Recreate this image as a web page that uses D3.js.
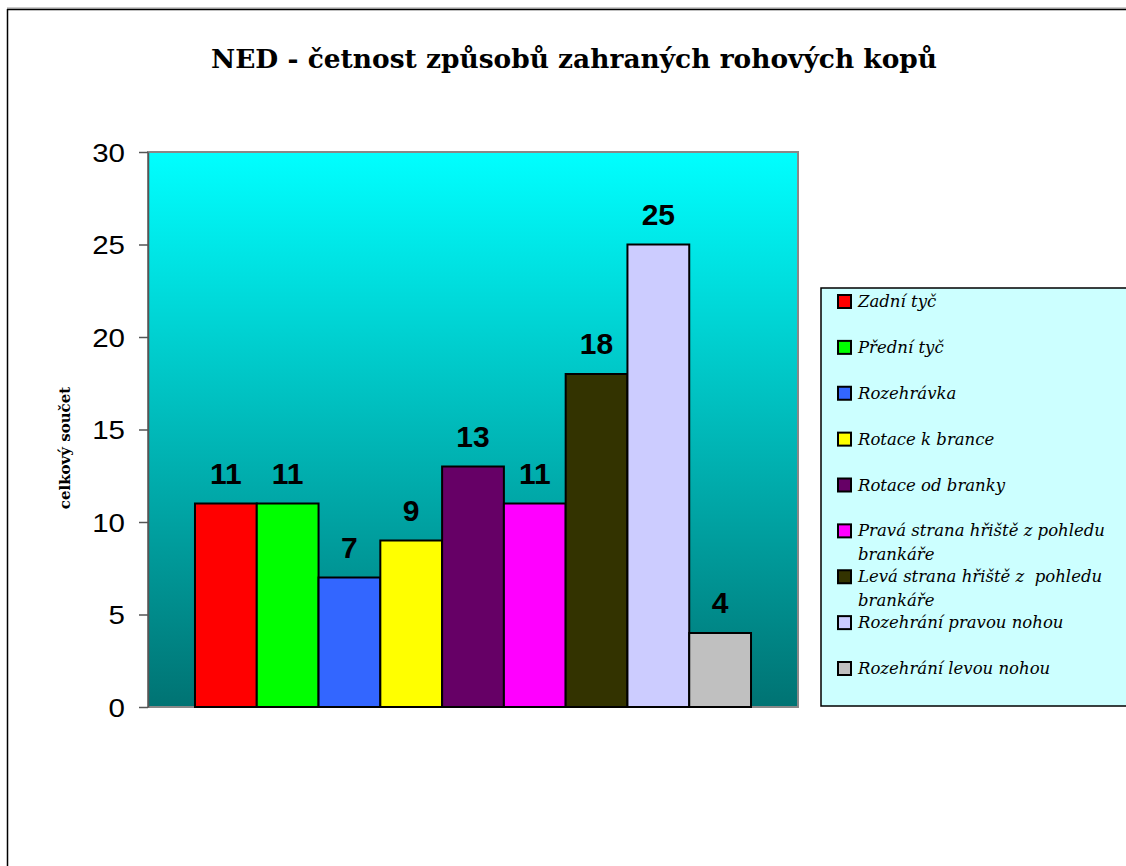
<!DOCTYPE html>
<html lang="cs">
<head>
    <meta charset="UTF-8">
    <script src="https://d3js.org/d3.v7.min.js"></script>
    <title>NED - četnost</title>
    <style>
        body { margin: 0; background: #fff; }
        .tick text { font-family: Arial, "Liberation Sans", sans-serif; }
    </style>
</head>
<body>
    <svg id="chart" width="1126" height="866"></svg>
<script>
// data
var categories = ["NED"];
var series = ["Zadní tyč", "Přední tyč", "Rozehrávka", "Rotace k brance", "Rotace od branky",
              "Pravá strana hřiště z pohledu brankáře", "Levá strana hřiště z  pohledu brankáře",
              "Rozehrání pravou nohou", "Rozehrání levou nohou"];
var values = [11, 11, 7, 9, 13, 11, 18, 25, 4];
var yTicks = [0, 5, 10, 15, 20, 25, 30];
// legend lines (wrapped like the original)
var legendLines = [["Zadní tyč"], ["Přední tyč"], ["Rozehrávka"], ["Rotace k brance"], ["Rotace od branky"],
                   ["Pravá strana hřiště z pohledu", "brankáře"], ["Levá strana hřiště z  pohledu", "brankáře"],
                   ["Rozehrání pravou nohou"], ["Rozehrání levou nohou"]];

var colors = ["#FF0000", "#00FF00", "#3366FF", "#FFFF00", "#660066", "#FF00FF", "#333300", "#CCCCFF", "#C0C0C0"];
var color = d3.scaleOrdinal().domain(series).range(colors);

var svg = d3.select("#chart");

// outer frame
svg.append("line").attr("x1", 7).attr("x2", 1126).attr("y1", 8).attr("y2", 8)
    .attr("stroke", "#999").attr("stroke-width", 1);
svg.append("line").attr("x1", 7).attr("x2", 1126).attr("y1", 9.5).attr("y2", 9.5)
    .attr("stroke", "#000").attr("stroke-width", 1.5);
svg.append("line").attr("x1", 7.5).attr("x2", 7.5).attr("y1", 9).attr("y2", 866)
    .attr("stroke", "#000").attr("stroke-width", 1.5);

// title
svg.append("text")
    .attr("x", 574).attr("y", 68)
    .attr("text-anchor", "middle")
    .style("font-family", "'DejaVu Serif', serif")
    .style("font-weight", "bold")
    .style("font-size", "26px")
    .attr("textLength", 726)
    .attr("lengthAdjust", "spacingAndGlyphs")
    .text("NED - četnost způsobů zahraných rohových kopů");

// plot area
var plotLeft = 148, plotRight = 798, plotTop = 152, plotBottom = 707;

var defs = svg.append("defs");
var grad = defs.append("linearGradient").attr("id", "bg")
    .attr("x1", 0).attr("y1", 0).attr("x2", 0).attr("y2", 1);
grad.append("stop").attr("offset", "0%").attr("stop-color", "#00FFFF");
grad.append("stop").attr("offset", "100%").attr("stop-color", "#007373");

svg.append("rect")
    .attr("x", plotLeft).attr("y", plotTop)
    .attr("width", plotRight - plotLeft).attr("height", plotBottom - plotTop)
    .attr("fill", "url(#bg)")
    .attr("stroke", "#888").attr("stroke-width", 2);

var y = d3.scaleLinear().domain([0, 30]).range([plotBottom, plotTop]);
var x0 = d3.scaleBand().domain(categories).range([plotLeft, plotRight]).paddingInner(0).paddingOuter(0.0845);
var x1 = d3.scaleBand().domain(series).range([0, x0.bandwidth()]);

// y axis
var yAxis = d3.axisLeft(y).tickValues(yTicks).tickSizeInner(9).tickSizeOuter(0).tickPadding(14);
var gy = svg.append("g").attr("transform", "translate(" + plotLeft + ",0)").call(yAxis);
gy.select(".domain").attr("stroke", "#555").attr("stroke-width", 1.5);
gy.selectAll(".tick line").attr("stroke", "#555").attr("stroke-width", 1.5);
// the original digits are a bit wider than Arial
gy.selectAll(".tick text")
    .style("font-size", "25px").attr("fill", "#000").attr("dy", "0.36em")
    .attr("x", -23 / 1.18)
    .attr("transform", "scale(1.18,1)");

// y title
svg.append("text")
    .attr("transform", "translate(70,448) rotate(-90)")
    .attr("text-anchor", "middle")
    .style("font-family", "'DejaVu Serif', serif")
    .style("font-weight", "bold")
    .style("font-size", "15px")
    .text("celkový součet");

// bars
var g = svg.append("g").attr("transform", "translate(" + x0(categories[0]) + ",0)");
g.selectAll("rect.bar")
    .data(series)
    .join("rect")
    .attr("class", "bar")
    .attr("x", d => x1(d))
    .attr("y", (d, i) => y(values[i]))
    .attr("width", x1.bandwidth())
    .attr("height", (d, i) => y(0) - y(values[i]))
    .attr("fill", d => color(d))
    .attr("stroke", "#000").attr("stroke-width", 2);

// value labels
g.selectAll("text.val")
    .data(series)
    .join("text")
    .attr("class", "val")
    .attr("x", d => x1(d) + x1.bandwidth() / 2)
    .attr("y", (d, i) => y(values[i]) - 20)
    .attr("text-anchor", "middle")
    .style("font-family", "Arial, 'Liberation Sans', sans-serif")
    .style("font-weight", "bold")
    .style("font-size", "30px")
    .text((d, i) => values[i]);

// legend
svg.append("rect")
    .attr("x", 821).attr("y", 288).attr("width", 320).attr("height", 418)
    .attr("fill", "#CCFFFF").attr("stroke", "#000").attr("stroke-width", 1.5);

var legendY = d3.scalePoint().domain(series).range([301, 668]);
var lg = svg.append("g").selectAll("g").data(series).join("g")
    .attr("transform", d => "translate(838," + legendY(d) + ")");
lg.append("rect")
    .attr("x", 0).attr("y", -6).attr("width", 13).attr("height", 13)
    .attr("fill", d => color(d)).attr("stroke", "#000").attr("stroke-width", 2);
lg.append("text")
    .attr("x", 20).attr("y", 6)
    .style("font-family", "'DejaVu Serif', serif")
    .style("font-style", "italic")
    .style("font-size", "16.5px")
    .selectAll("tspan")
    .data((d, i) => legendLines[i])
    .join("tspan")
    .attr("x", 20)
    .attr("dy", (d, j) => j === 0 ? 0 : 24)
    .style("white-space", "pre")
    .text(d => d);
</script>
</body>
</html>
